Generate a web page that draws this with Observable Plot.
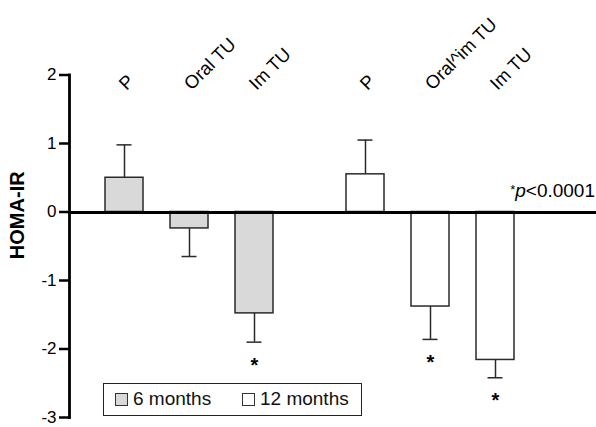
<!DOCTYPE html>
<html>
<head>
<meta charset="utf-8">
<script src="https://cdn.jsdelivr.net/npm/d3@7"></script>
<script src="https://cdn.jsdelivr.net/npm/@observablehq/plot@0.6"></script>
<style>
  body { margin: 0; background: #fff; font-family: "Liberation Sans", Arial, sans-serif; }
  #wrap { position: relative; width: 596px; height: 427px; }
  #legend { position: absolute; left: 103px; top: 383px; width: 257px; height: 31px;
            border: 1.5px solid #222; background: #fff; font-size: 19px; color: #111; }
  #legend .item { position: absolute; top: 4px; display: flex; align-items: center; }
  #legend .sw { width: 11px; height: 11px; border: 1px solid #333; margin-right: 5px; }
</style>
</head>
<body>
<div id="wrap"></div>
<script>
const periods = ["6 months", "6 months", "6 months", "12 months", "12 months", "12 months"];
const labels = ["P", "Oral TU", "Im TU", "P", "Oral^im TU", "Im TU"];
const means = [0.50, -0.24, -1.48, 0.55, -1.38, -2.16];
const errors = [0.48, 0.41, 0.42, 0.50, 0.48, 0.26];
const significant = [false, false, true, false, true, true];
const periodOrder = ["6 months", "12 months"];
const periodFills = ["#d9d9d9", "#ffffff"];
const yTicks = [-3, -2, -1, 0, 1, 2];
const yDomain = [-3, 2];

const rows = labels.map((label, i) => ({
  period: periods[i],
  label,
  slot: i % 3,
  mean: means[i],
  err: errors[i],
  sig: significant[i],
  end: means[i] + Math.sign(means[i]) * errors[i]
}));
const baseline = periodOrder.map(p => ({ period: p, value: 0 }));

const ink = "#2a2a2a";
const bridge = 14;        // extend the zero line across the gap between facets
const outerRight = 53.5;  // room right of the last facet

const plot = Plot.plot({
  width: 596,
  height: 427,
  marginLeft: 69,
  marginRight: 0,
  marginTop: 74.5,
  marginBottom: 10,
  style: { fontFamily: "Liberation Sans, Arial, sans-serif", fontSize: "17px", color: "#111", background: "#fff" },
  fx: { domain: periodOrder, paddingInner: 0.0353, paddingOuter: 0, insetRight: outerRight, axis: null },
  x: { type: "band", domain: [0, 1, 2], padding: 0.409, insetLeft: 7.5, axis: null },
  y: { domain: yDomain },
  color: { domain: periodOrder, range: periodFills },
  marks: [
    Plot.ruleX(rows, { fx: "period", x: "slot", y1: "mean", y2: "end", stroke: ink, strokeWidth: 1.5 }),
    Plot.tickY(rows, { fx: "period", x: "slot", y: "end", stroke: ink, strokeWidth: 1.5, insetLeft: 11.5, insetRight: 11.5 }),
    Plot.barY(rows, { fx: "period", x: "slot", y: "mean", fill: "period", stroke: ink, strokeWidth: 1.5 }),
    Plot.ruleY(baseline.filter(d => d.period === periodOrder[0]), { fx: "period", y: "value", stroke: "#000", strokeWidth: 3, insetRight: -bridge, shapeRendering: "crispEdges" }),
    Plot.ruleY(baseline.filter(d => d.period === periodOrder[1]), { fx: "period", y: "value", stroke: "#000", strokeWidth: 3, insetLeft: -bridge, insetRight: -outerRight, shapeRendering: "crispEdges" }),
    Plot.text(rows.filter(d => d.sig), { fx: "period", x: "slot", y: "end", text: () => "*", dy: 23, fontSize: 20, fontWeight: "bold", fill: "#000" }),
    Plot.text(rows, { fx: "period", x: "slot", text: "label", frameAnchor: "top", dy: 16, dx: 2, rotate: -45, textAnchor: "start", lineAnchor: "bottom", fontSize: 18.5, fill: "#000" }),
    Plot.text(baseline.filter(d => d.period === periodOrder[1]), { fx: "period", y: "value", text: () => "*p<0.0001", frameAnchor: "right", textAnchor: "end", lineAnchor: "bottom", dy: -15, dx: outerRight - 1, fontSize: 19, fill: "#000" }),
    Plot.axisY(yTicks, { tickSize: 10, tickPadding: 3, strokeWidth: 2.5, fontSize: 17, fill: "#000", stroke: "#000", label: null, tickFormat: d => String(d) }),
    Plot.frame({ anchor: "left", facetAnchor: "left", stroke: "#000", strokeWidth: 2.8 }),
    Plot.text(["HOMA-IR"], { fx: [periodOrder[0]], frameAnchor: "left", text: d => d, rotate: -90, textAnchor: "middle", dx: -52, dy: -31, fontSize: 20, fontWeight: "bold", fill: "#000" })
  ]
});

// rich formatting for the significance note
d3.select(plot).selectAll("text").filter(function () { return this.textContent === "*p<0.0001"; }).each(function () {
  const t = d3.select(this);
  t.text(null);
  t.append("tspan").attr("font-size", "13px").attr("dy", "-3").text("*");
  t.append("tspan").attr("font-style", "italic").attr("dy", "3").text("p");
  t.append("tspan").text("<0.0001");
});

const wrap = document.getElementById("wrap");
wrap.appendChild(plot);

// legend
const legend = document.createElement("div");
legend.id = "legend";
const items = [
  { label: periodOrder[0], fill: periodFills[0], left: 11 },
  { label: periodOrder[1], fill: periodFills[1], left: 138 }
];
for (const it of items) {
  const el = document.createElement("div");
  el.className = "item";
  el.style.left = it.left + "px";
  const sw = document.createElement("span");
  sw.className = "sw";
  sw.style.background = it.fill;
  const tx = document.createElement("span");
  tx.textContent = it.label;
  el.appendChild(sw);
  el.appendChild(tx);
  legend.appendChild(el);
}
wrap.appendChild(legend);
</script>
</body>
</html>
